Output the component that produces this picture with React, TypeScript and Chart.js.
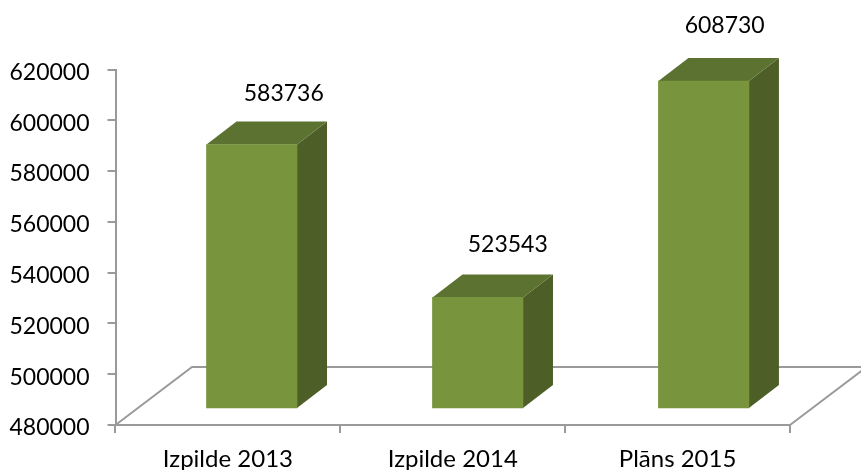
import React, { useEffect, useRef } from "react";
import { Chart, registerables } from "chart.js";

Chart.register(...registerables);

const categories = ["Izpilde 2013", "Izpilde 2014", "Plāns 2015"];
const positions = [0, 1, 2];
const values = [583736, 523543, 608730];
const yTicks = [480000, 500000, 520000, 540000, 560000, 580000, 600000, 620000];

const FONT = "Lato, Carlito, sans-serif";
const GRAY = "#9a9a9a";
const FRONT = "#78943c";
const TOP = "#5c7230";
const SIDE = "#4d5f27";
const DX = 30;
const DY = 23;
const LABEL_LIFT = [51, 53, 55];
const LABEL_SHIFT = [32, 30, 21];

const box3d = {
  id: "box3d",
  beforeDatasetsDraw(chart: any) {
    const { ctx, chartArea: a } = chart;
    ctx.save();
    ctx.strokeStyle = GRAY;
    ctx.lineWidth = 2;
    ctx.beginPath();
    ctx.moveTo(a.left, a.bottom);
    ctx.lineTo(a.left + 76.5, a.bottom - 58);
    ctx.lineTo(861, a.bottom - 58);
    ctx.moveTo(a.right, a.bottom);
    ctx.lineTo(a.right + 76.5, a.bottom - 58);
    ctx.stroke();
    for (const el of chart.getDatasetMeta(0).data) {
      const { x, y, base, width } = el.getProps(["x", "y", "base", "width"], true);
      const l = x - width / 2;
      const r = x + width / 2;
      ctx.fillStyle = SIDE;
      ctx.beginPath();
      ctx.moveTo(r, y);
      ctx.lineTo(r + DX, y - DY);
      ctx.lineTo(r + DX, base - DY);
      ctx.lineTo(r, base);
      ctx.closePath();
      ctx.fill();
      ctx.fillStyle = TOP;
      ctx.beginPath();
      ctx.moveTo(l, y);
      ctx.lineTo(l + DX, y - DY);
      ctx.lineTo(r + DX, y - DY);
      ctx.lineTo(r, y);
      ctx.closePath();
      ctx.fill();
    }
    ctx.restore();
  },
  afterDatasetsDraw(chart: any) {
    const { ctx } = chart;
    ctx.save();
    ctx.fillStyle = "#000";
    ctx.font = `23px ${FONT}`;
    ctx.textAlign = "center";
    ctx.textBaseline = "middle";
    chart.getDatasetMeta(0).data.forEach((el: any, i: number) => {
      ctx.fillText(String(values[i]), el.x + LABEL_SHIFT[i], el.y - LABEL_LIFT[i]);
    });
    ctx.restore();
  },
};

export default function App() {
  const ref = useRef<HTMLCanvasElement>(null);
  useEffect(() => {
    const chart = new Chart(ref.current!, {
      type: "bar",
      data: {
        labels: categories,
        datasets: [
          {
            data: values.map((v, i) => ({ x: positions[i], y: v })),
            xAxisID: "x2",
            yAxisID: "y2",
            base: 480000,
            backgroundColor: FRONT,
            borderWidth: 0,
            barThickness: 90.5,
            clip: false,
          } as any,
        ],
      },
      options: {
        responsive: false,
        animation: false,
        layout: { padding: { top: 69.5, right: 71, left: 0, bottom: 0 } },
        plugins: { legend: { display: false }, title: { display: false }, tooltip: { enabled: false } },
        scales: {
          x: {
            type: "category",
            position: "bottom",
            offset: true,
            grid: { offset: true, drawOnChartArea: false, drawTicks: true, tickLength: 8, color: GRAY, lineWidth: 2 },
            border: { color: GRAY, width: 2 },
            ticks: { color: "#000", font: { family: FONT, size: 24 }, padding: 12, maxRotation: 0 },
            afterFit: (s: any) => { s.height = 45; },
          },
          y: {
            type: "linear",
            position: "left",
            min: 480000,
            max: 620000,
            afterBuildTicks: (s: any) => { s.ticks = yTicks.map((value) => ({ value })); },
            grid: { drawOnChartArea: false, drawTicks: true, tickLength: 8, color: GRAY, lineWidth: 2 },
            border: { color: GRAY, width: 2 },
            ticks: { color: "#000", font: { family: FONT, size: 23 }, padding: 18, labelOffset: 3, callback: (v: any) => String(v) },
            afterFit: (s: any) => { s.width = 115.5; },
          },
          x2: { type: "linear", display: false, offset: false, min: -0.603, max: 2.382 },
          y2: { type: "linear", display: false, min: 473308, max: 613258 },
        },
      },
      plugins: [box3d],
    } as any);
    return () => chart.destroy();
  }, []);
  return (
    <canvas
      ref={ref}
      width={861}
      height={470}
      style={{ position: "absolute", left: 0, top: 0, width: 861, height: 470, display: "block" }}
    />
  );
}
